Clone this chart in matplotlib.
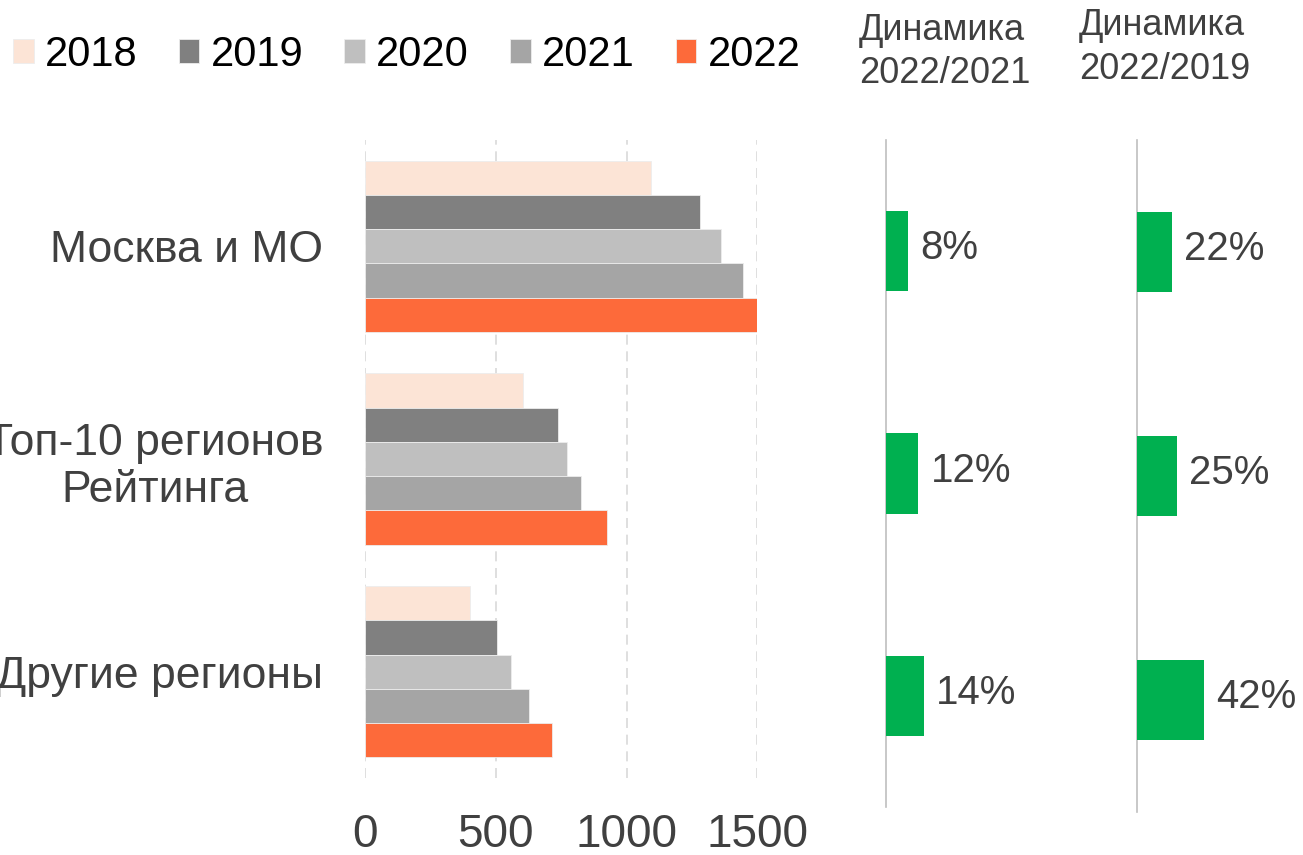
import matplotlib
matplotlib.use("Agg")
import matplotlib.pyplot as plt
import numpy as np

plt.rcParams['font.family'] = ['Liberation Sans', 'DejaVu Sans']

categories = ["Москва и МО", "Топ-10 регионов\nРейтинга", "Другие регионы"]
years = ["2018", "2019", "2020", "2021", "2022"]
values = {
    "2018": [1092, 603, 401],
    "2019": [1282, 739, 504],
    "2020": [1361, 774, 557],
    "2021": [1444, 827, 626],
    "2022": [1500, 924, 715],
}
colors = ["#FCE4D6", "#808080", "#BFBFBF", "#A5A5A5", "#FD6A3A"]
xticks = [0, 500, 1000, 1500]

dyn_2022_2021 = [8, 12, 14]
dyn_2022_2019 = [22, 25, 42]
dyn_titles = ["Динамика\n2022/2021", "Динамика\n2022/2019"]

W, H = 1303, 855
fig = plt.figure(figsize=(W / 100, H / 100), dpi=100)

def fx(px):
    return px / W

def fy(py):
    return 1 - py / H

text_col = "#404040"

# Main chart
ax = fig.add_axes([fx(365), fy(778), fx(757.3) - fx(365), fy(140) - fy(778)])
n = len(years)
h = 0.806 / n
y = np.arange(len(categories))
handles = []
for i, yr in enumerate(years):
    b = ax.barh(y + (i - (n - 1) / 2) * h, values[yr], height=h, color=colors[i],
                edgecolor="#EDEDED", linewidth=0.6, label=yr, zorder=3)
    handles.append(b)
ax.set_ylim(2.5, -0.5)
ax.set_xlim(0, 1500)
ax.set_xticks(xticks)
ax.set_xticklabels([str(t) for t in xticks])
ax.set_yticks(y)
ax.set_yticklabels(categories)
for lab in ax.get_yticklabels():
    lab.set_multialignment("center")
ax.tick_params(axis="x", length=0, pad=25, labelsize=33, labelcolor=text_col)
ax.tick_params(axis="y", length=0, pad=30, labelsize=32, labelcolor=text_col)
ax.grid(axis="x", color="#D9D9D9", linestyle=(0, (6, 4)), linewidth=1.2, zorder=0)
for s in ax.spines.values():
    s.set_visible(False)

# Legend
fig.legend(handles=handles, labels=years, loc="upper left", ncol=5, frameon=False,
           bbox_to_anchor=(fx(13), fy(35)), fontsize=30, handlelength=0.5,
           handleheight=0.5, handletextpad=0.27, columnspacing=0.98,
           borderpad=0, borderaxespad=0, labelcolor="black")

# Dynamics panels
def panel(left_px, bottom_px, vals, px_per_pct, barh_frac):
    width_px = 140
    a = fig.add_axes([fx(left_px), fy(bottom_px), width_px / W, fy(140) - fy(bottom_px)])
    a.barh(y, vals, height=barh_frac, color="#00B050", zorder=3)
    a.set_xlim(0, width_px / px_per_pct)
    a.set_ylim(2.5, -0.5)
    for k, s in a.spines.items():
        s.set_visible(k == "left")
    a.spines["left"].set_color("#BFBFBF")
    a.spines["left"].set_linewidth(1.2)
    a.set_xticks([])
    a.set_yticks([])
    a.patch.set_alpha(0)
    for yy, v in zip(y, vals):
        a.annotate(f"{v}%", xy=(v, yy), xytext=(9, 2), textcoords="offset points",
                   ha="left", va="center", fontsize=29, color=text_col,
                   annotation_clip=False)
    return a

panel(886, 807, dyn_2022_2021, 2.7, 0.36)
panel(1136.7, 812, dyn_2022_2019, 1.6, 0.355)

# Titles
t1 = dyn_titles[0].split("\n")
t2 = dyn_titles[1].split("\n")
fig.text(fx(859), fy(40), t1[0], ha="left", va="baseline", fontsize=26, color=text_col)
fig.text(fx(859), fy(83), t1[1], ha="left", va="baseline", fontsize=26, color=text_col)
fig.text(fx(1079), fy(35), t2[0], ha="left", va="baseline", fontsize=26, color=text_col)
fig.text(fx(1079), fy(79), t2[1], ha="left", va="baseline", fontsize=26, color=text_col)

fig.savefig("out.png", dpi=100, facecolor="white")
